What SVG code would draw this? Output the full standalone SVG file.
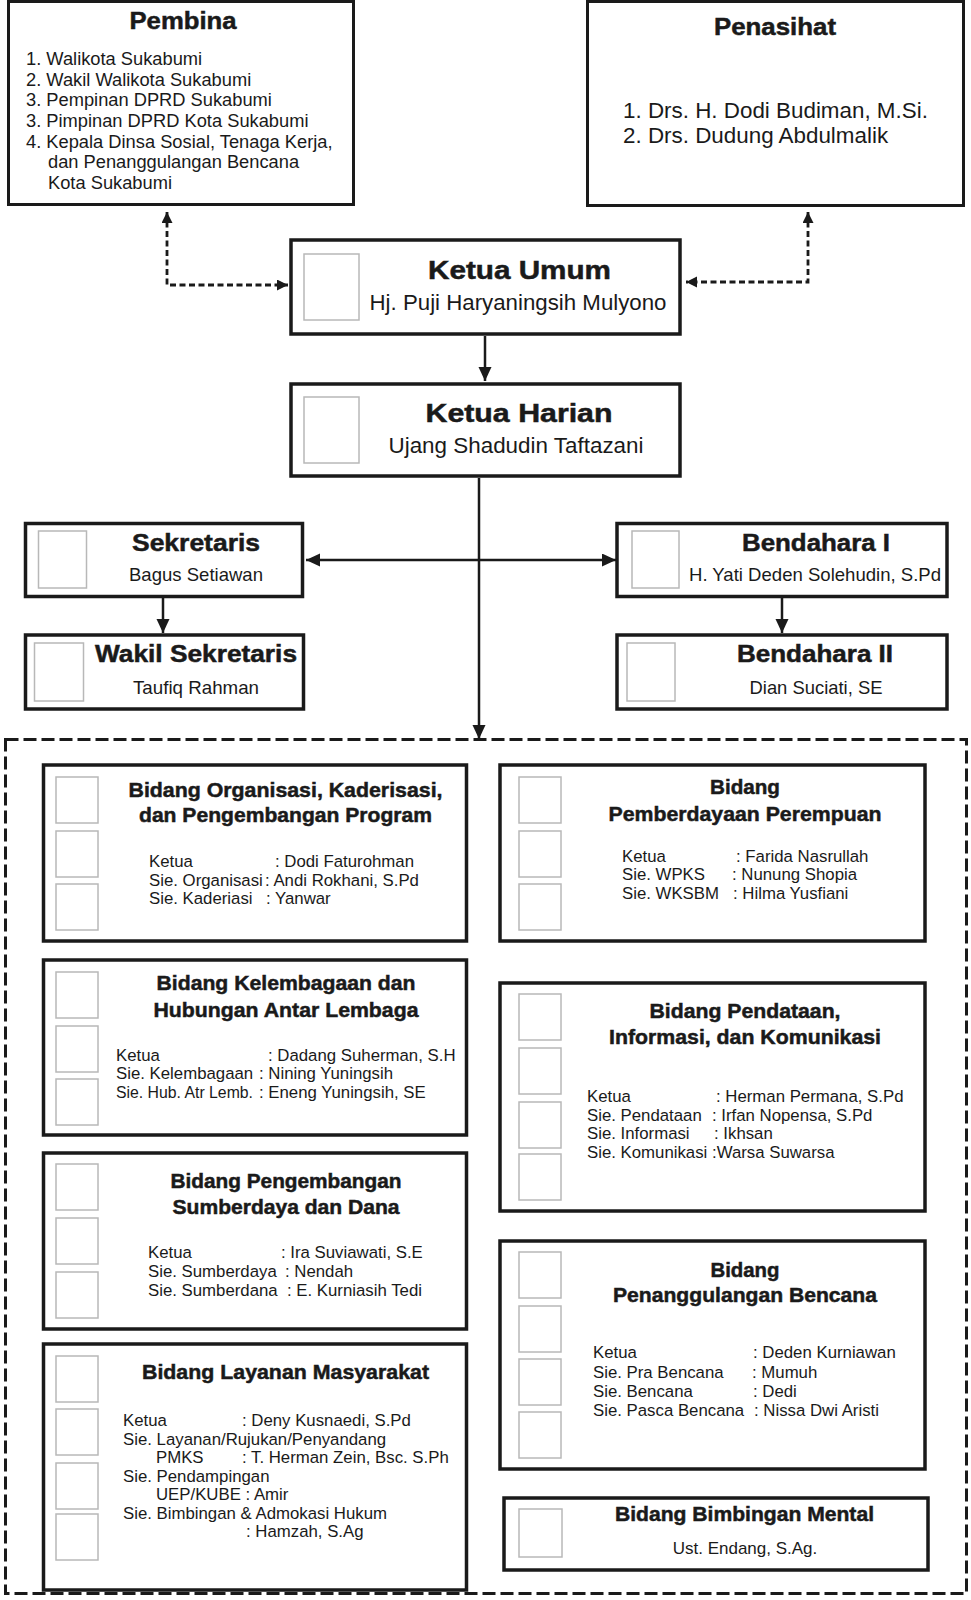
<svg xmlns="http://www.w3.org/2000/svg" width="971" height="1600" viewBox="0 0 971 1600">
<style>
.box{fill:#fff;stroke:#1a1a1a;stroke-width:3.5}
.tb{fill:#fff;stroke:#1a1a1a;stroke-width:3}
.ph{fill:#fff;stroke:#b8b8b8;stroke-width:1.5}
text{font-family:"Liberation Sans",Arial,sans-serif;fill:#1a1a1a}
.h{font-weight:bold;stroke:#1a1a1a;stroke-width:0.5}
.hc{text-anchor:middle}
.b{font-size:16.8px}
.pl{font-size:18.3px}
.ln{stroke:#1a1a1a;stroke-width:2.5;fill:none}
.dot{stroke:#1a1a1a;stroke-width:2.8;fill:none;stroke-dasharray:6 3.5}
.dash{fill:none;stroke:#1a1a1a;stroke-width:3;stroke-dasharray:13 5}
</style>
<defs>
<marker id="ah" markerUnits="userSpaceOnUse" markerWidth="14" markerHeight="14" refX="14" refY="6.5" orient="auto-start-reverse"><path d="M0,0 L14,6.5 L0,13 z" fill="#1a1a1a"/></marker>
<marker id="ahs" markerUnits="userSpaceOnUse" markerWidth="12" markerHeight="12" refX="11" refY="5.5" orient="auto-start-reverse"><path d="M0,0 L11,5.5 L0,11 z" fill="#1a1a1a"/></marker>
</defs>

<rect class="dash" x="5.5" y="739.5" width="961" height="854"/>

<g id="connectors">
<path class="dot" d="M167,212 V285 H288" marker-start="url(#ahs)" marker-end="url(#ahs)"/>
<path class="dot" d="M808,212 V282 H686" marker-start="url(#ahs)" marker-end="url(#ahs)"/>
<path class="ln" d="M485,336 V381" marker-end="url(#ah)"/>
<path class="ln" d="M479,478 V739" marker-end="url(#ah)"/>
<path class="ln" d="M306,560 H616" marker-start="url(#ah)" marker-end="url(#ah)"/>
<path class="ln" d="M163,598 V633" marker-end="url(#ah)"/>
<path class="ln" d="M782,598 V633" marker-end="url(#ah)"/>
</g>

<g id="pembina">
<rect class="tb" x="8.5" y="1.5" width="345" height="203"/>
<text class="h hc" x="183" y="29" font-size="24" textLength="107" lengthAdjust="spacingAndGlyphs">Pembina</text>
<text class="pl" x="26" y="65">1. Walikota Sukabumi</text>
<text class="pl" x="26" y="86">2. Wakil Walikota Sukabumi</text>
<text class="pl" x="26" y="106">3. Pempinan DPRD Sukabumi</text>
<text class="pl" x="26" y="127">3. Pimpinan DPRD Kota Sukabumi</text>
<text class="pl" x="26" y="148">4. Kepala Dinsa Sosial, Tenaga Kerja,</text>
<text class="pl" x="48" y="168">dan Penanggulangan Bencana</text>
<text class="pl" x="48" y="189">Kota Sukabumi</text>
</g>

<g id="penasihat">
<rect class="tb" x="587.5" y="1.5" width="376" height="204"/>
<text class="h hc" x="775" y="35" font-size="24" textLength="122" lengthAdjust="spacingAndGlyphs">Penasihat</text>
<text font-size="22.4" x="623" y="118">1. Drs. H. Dodi Budiman, M.Si.</text>
<text font-size="22.4" x="623" y="143">2. Drs. Dudung Abdulmalik</text>
</g>

<g id="ketua-umum">
<rect class="box" x="291" y="240" width="389" height="94" stroke-width="4"/>
<rect class="ph" x="304" y="254" width="55" height="66"/>
<text class="h hc" x="519.5" y="279" font-size="26" textLength="183" lengthAdjust="spacingAndGlyphs">Ketua Umum</text>
<text class="hc" x="518" y="310" font-size="22" textLength="297" lengthAdjust="spacingAndGlyphs">Hj. Puji Haryaningsih Mulyono</text>
</g>

<g id="ketua-harian">
<rect class="box" x="291" y="384" width="389" height="92" stroke-width="4"/>
<rect class="ph" x="304" y="397" width="55" height="66"/>
<text class="h hc" x="519" y="422" font-size="26" textLength="187" lengthAdjust="spacingAndGlyphs">Ketua Harian</text>
<text class="hc" x="516" y="453" font-size="22" textLength="255" lengthAdjust="spacingAndGlyphs">Ujang Shadudin Taftazani</text>
</g>

<g id="sekretaris">
<rect class="box" x="25.5" y="523.5" width="277" height="73"/>
<rect class="ph" x="38.5" y="531" width="48" height="57"/>
<text class="h hc" x="196" y="551" font-size="24" textLength="128" lengthAdjust="spacingAndGlyphs">Sekretaris</text>
<text class="hc" x="196" y="581" font-size="18.5" textLength="134" lengthAdjust="spacingAndGlyphs">Bagus Setiawan</text>
</g>

<g id="wakil-sekretaris">
<rect class="box" x="25.5" y="635" width="278" height="74"/>
<rect class="ph" x="34.5" y="643" width="49" height="58"/>
<text class="h hc" x="196" y="662" font-size="24" textLength="202" lengthAdjust="spacingAndGlyphs">Wakil Sekretaris</text>
<text class="hc" x="196" y="694" font-size="18.5" textLength="126" lengthAdjust="spacingAndGlyphs">Taufiq Rahman</text>
</g>

<g id="bendahara-1">
<rect class="box" x="617" y="523.5" width="330" height="73"/>
<rect class="ph" x="632" y="531" width="47" height="57"/>
<text class="h hc" x="816" y="551" font-size="24" textLength="148" lengthAdjust="spacingAndGlyphs">Bendahara I</text>
<text class="hc" x="815" y="581" font-size="18.5" textLength="252" lengthAdjust="spacingAndGlyphs">H. Yati Deden Solehudin, S.Pd</text>
</g>

<g id="bendahara-2">
<rect class="box" x="617" y="635" width="330" height="74"/>
<rect class="ph" x="627" y="643" width="48" height="58"/>
<text class="h hc" x="815" y="662" font-size="24" textLength="156" lengthAdjust="spacingAndGlyphs">Bendahara II</text>
<text class="hc" x="816" y="694" font-size="18.5" textLength="133" lengthAdjust="spacingAndGlyphs">Dian Suciati, SE</text>
</g>

<g id="bidang-organisasi">
<rect class="box" x="43.5" y="765" width="423" height="176"/>
<rect class="ph" x="56" y="777" width="42" height="46"/>
<rect class="ph" x="56" y="831" width="42" height="46"/>
<rect class="ph" x="56" y="884" width="42" height="46"/>
<text class="h hc" x="285.5" y="797" font-size="21" textLength="314" lengthAdjust="spacingAndGlyphs">Bidang Organisasi, Kaderisasi,</text>
<text class="h hc" x="285.5" y="822" font-size="21" textLength="293" lengthAdjust="spacingAndGlyphs">dan Pengembangan Program</text>
<text class="b" x="149" y="867">Ketua</text><text class="b" x="275" y="867">: Dodi Faturohman</text>
<text class="b" x="149" y="886">Sie. Organisasi</text><text class="b" x="265" y="886">: Andi Rokhani, S.Pd</text>
<text class="b" x="149" y="904">Sie. Kaderiasi</text><text class="b" x="266" y="904">: Yanwar</text>
</g>

<g id="bidang-kelembagaan">
<rect class="box" x="43.5" y="960" width="423" height="175"/>
<rect class="ph" x="56" y="972" width="42" height="46"/>
<rect class="ph" x="56" y="1026" width="42" height="46"/>
<rect class="ph" x="56" y="1079" width="42" height="46"/>
<text class="h hc" x="286" y="990" font-size="21" textLength="259" lengthAdjust="spacingAndGlyphs">Bidang Kelembagaan dan</text>
<text class="h hc" x="286" y="1017" font-size="21" textLength="265" lengthAdjust="spacingAndGlyphs">Hubungan Antar Lembaga</text>
<text class="b" x="116" y="1061">Ketua</text><text class="b" x="268" y="1061">: Dadang Suherman, S.H</text>
<text class="b" x="116" y="1079">Sie. Kelembagaan</text><text class="b" x="259" y="1079">: Nining Yuningsih</text>
<text class="b" x="116" y="1098" textLength="137" lengthAdjust="spacingAndGlyphs">Sie. Hub. Atr Lemb.</text><text class="b" x="259" y="1098">: Eneng Yuningsih, SE</text>
</g>

<g id="bidang-pengembangan">
<rect class="box" x="43.5" y="1153" width="423" height="176"/>
<rect class="ph" x="56" y="1164" width="42" height="46"/>
<rect class="ph" x="56" y="1218" width="42" height="46"/>
<rect class="ph" x="56" y="1272" width="42" height="46"/>
<text class="h hc" x="286" y="1188" font-size="21" textLength="231" lengthAdjust="spacingAndGlyphs">Bidang Pengembangan</text>
<text class="h hc" x="286" y="1214" font-size="21" textLength="227" lengthAdjust="spacingAndGlyphs">Sumberdaya dan Dana</text>
<text class="b" x="148" y="1258">Ketua</text><text class="b" x="281" y="1258">: Ira Suviawati, S.E</text>
<text class="b" x="148" y="1277">Sie. Sumberdaya</text><text class="b" x="285" y="1277">: Nendah</text>
<text class="b" x="148" y="1296">Sie. Sumberdana</text><text class="b" x="287" y="1296">: E. Kurniasih Tedi</text>
</g>

<g id="bidang-layanan">
<rect class="box" x="43.5" y="1344" width="423" height="246"/>
<rect class="ph" x="56" y="1356" width="42" height="46"/>
<rect class="ph" x="56" y="1409" width="42" height="46"/>
<rect class="ph" x="56" y="1463" width="42" height="46"/>
<rect class="ph" x="56" y="1514" width="42" height="46"/>
<text class="h hc" x="285.5" y="1379" font-size="21" textLength="287" lengthAdjust="spacingAndGlyphs">Bidang Layanan Masyarakat</text>
<text class="b" x="123" y="1426">Ketua</text><text class="b" x="242" y="1426">: Deny Kusnaedi, S.Pd</text>
<text class="b" x="123" y="1445">Sie. Layanan/Rujukan/Penyandang</text>
<text class="b" x="156" y="1463">PMKS</text><text class="b" x="242" y="1463">: T. Herman Zein, Bsc. S.Ph</text>
<text class="b" x="123" y="1482">Sie. Pendampingan</text>
<text class="b" x="156" y="1500">UEP/KUBE : Amir</text>
<text class="b" x="123" y="1519">Sie. Bimbingan &amp; Admokasi Hukum</text>
<text class="b" x="246" y="1537">: Hamzah, S.Ag</text>
</g>

<g id="bidang-perempuan">
<rect class="box" x="500" y="765" width="425" height="176"/>
<rect class="ph" x="519" y="777" width="42" height="46"/>
<rect class="ph" x="519" y="831" width="42" height="46"/>
<rect class="ph" x="519" y="884" width="42" height="46"/>
<text class="h hc" x="745" y="794" font-size="21" textLength="70" lengthAdjust="spacingAndGlyphs">Bidang</text>
<text class="h hc" x="745" y="821" font-size="21" textLength="273" lengthAdjust="spacingAndGlyphs">Pemberdayaan Perempuan</text>
<text class="b" x="622" y="862">Ketua</text><text class="b" x="736" y="862">: Farida Nasrullah</text>
<text class="b" x="622" y="880">Sie. WPKS</text><text class="b" x="732" y="880">: Nunung Shopia</text>
<text class="b" x="622" y="899">Sie. WKSBM</text><text class="b" x="733" y="899">: Hilma Yusfiani</text>
</g>

<g id="bidang-pendataan">
<rect class="box" x="500" y="983" width="425" height="228"/>
<rect class="ph" x="519" y="994" width="42" height="46"/>
<rect class="ph" x="519" y="1048" width="42" height="46"/>
<rect class="ph" x="519" y="1102" width="42" height="46"/>
<rect class="ph" x="519" y="1154" width="42" height="46"/>
<text class="h hc" x="745" y="1018" font-size="21" textLength="191" lengthAdjust="spacingAndGlyphs">Bidang Pendataan,</text>
<text class="h hc" x="745" y="1044" font-size="21" textLength="272" lengthAdjust="spacingAndGlyphs">Informasi, dan Komunikasi</text>
<text class="b" x="587" y="1102">Ketua</text><text class="b" x="716" y="1102">: Herman Permana, S.Pd</text>
<text class="b" x="587" y="1121">Sie. Pendataan</text><text class="b" x="712" y="1121">: Irfan Nopensa, S.Pd</text>
<text class="b" x="587" y="1139">Sie. Informasi</text><text class="b" x="714" y="1139">: Ikhsan</text>
<text class="b" x="587" y="1158">Sie. Komunikasi</text><text class="b" x="712" y="1158">:Warsa Suwarsa</text>
</g>

<g id="bidang-bencana">
<rect class="box" x="500" y="1241" width="425" height="228"/>
<rect class="ph" x="519" y="1252" width="42" height="46"/>
<rect class="ph" x="519" y="1306" width="42" height="46"/>
<rect class="ph" x="519" y="1359" width="42" height="46"/>
<rect class="ph" x="519" y="1412" width="42" height="46"/>
<text class="h hc" x="745" y="1277" font-size="21" textLength="69" lengthAdjust="spacingAndGlyphs">Bidang</text>
<text class="h hc" x="745" y="1302" font-size="21" textLength="264" lengthAdjust="spacingAndGlyphs">Penanggulangan Bencana</text>
<text class="b" x="593" y="1358">Ketua</text><text class="b" x="753" y="1358">: Deden Kurniawan</text>
<text class="b" x="593" y="1378">Sie. Pra Bencana</text><text class="b" x="752" y="1378">: Mumuh</text>
<text class="b" x="593" y="1397">Sie. Bencana</text><text class="b" x="753" y="1397">: Dedi</text>
<text class="b" x="593" y="1416">Sie. Pasca Bencana</text><text class="b" x="754" y="1416">: Nissa Dwi Aristi</text>
</g>

<g id="bidang-mental">
<rect class="box" x="504" y="1498" width="424" height="72"/>
<rect class="ph" x="519" y="1509" width="43" height="48"/>
<text class="h hc" x="744.5" y="1521" font-size="21" textLength="259" lengthAdjust="spacingAndGlyphs">Bidang Bimbingan Mental</text>
<text class="hc" x="745" y="1554" font-size="17">Ust. Endang, S.Ag.</text>
</g>
</svg>
